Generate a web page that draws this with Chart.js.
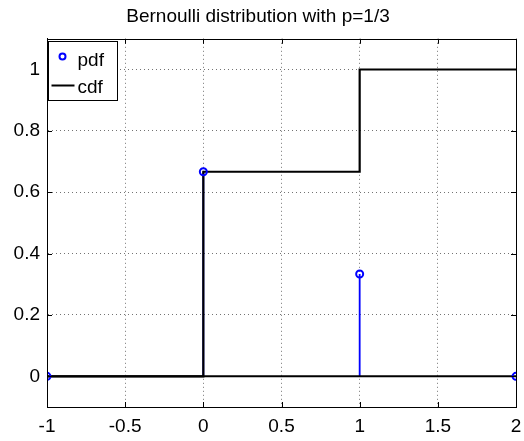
<!DOCTYPE html>
<html>
<head>
<meta charset="utf-8">
<script src="https://cdn.jsdelivr.net/npm/chart.js@4/dist/chart.umd.min.js"></script>
<style>
  html, body { margin: 0; padding: 0; background: #fff; }
  #wrap { width: 524px; height: 441px; }
</style>
</head>
<body>
<div id="wrap"><canvas id="bern"></canvas></div>
<script>
// Bernoulli with p = 1/3 on support {0, 1}, plotted over [-1, 2]
var pdfX = [-1, 0, 1, 2];
var pdfY = [0, 2 / 3, 1 / 3, 0];
var cdfX = [-1, 0, 1, 2];
var cdfY = [0, 2 / 3, 1, 1];
var xTicks = [-1, -0.5, 0, 0.5, 1, 1.5, 2];
var yTicks = [0, 0.2, 0.4, 0.6, 0.8, 1];

var FONT = '"Liberation Sans", Arial, Helvetica, sans-serif';
var BLUE = 'rgb(0, 0, 255)';

// stairs: hold each cdf value until the next x
var cdfPts = [];
for (var i = 0; i < cdfX.length; i++) {
    if (i > 0) cdfPts.push({ x: cdfX[i], y: cdfY[i - 1] });
    cdfPts.push({ x: cdfX[i], y: cdfY[i] });
}

// one vertical stem per pdf value
var stems = pdfX.map(function (x, i) {
    return {
        data: [{ x: x, y: 0 }, { x: x, y: pdfY[i] }],
        borderColor: BLUE, borderWidth: 1.8, pointRadius: 0, showLine: true,
        order: 3
    };
});

var baseline = {
    data: [{ x: xTicks[0], y: 0 }, { x: xTicks[xTicks.length - 1], y: 0 }],
    borderColor: '#000', borderWidth: 2, pointRadius: 0, showLine: true,
    order: 2
};

var markers = {
    label: 'pdf',
    data: pdfX.map(function (x, i) { return { x: x, y: pdfY[i] }; }),
    showLine: false,
    pointStyle: 'circle', pointRadius: 3.5, pointBorderWidth: 2,
    pointBorderColor: BLUE, pointBackgroundColor: 'rgba(0,0,0,0)',
    borderColor: BLUE,
    order: 0
};

var cdf = {
    label: 'cdf',
    data: cdfPts,
    showLine: true, borderColor: '#000', borderWidth: 2.2, pointRadius: 0,
    order: 1
};

function fmt(v) { return String(Math.round(v * 10) / 10); }

// inward tick marks on all four sides, plus the top/right box edges
var boxTicks = {
    id: 'boxTicks',
    afterDatasetsDraw: function (chart) {
        var a = chart.chartArea, c = chart.ctx;
        var sx = chart.scales.x, sy = chart.scales.y, len = 5;
        c.save();
        c.strokeStyle = '#000';
        c.lineWidth = 1;
        c.beginPath();
        xTicks.forEach(function (v) {
            var px = Math.round(sx.getPixelForValue(v)) + 0.5;
            c.moveTo(px, a.bottom); c.lineTo(px, a.bottom - len);
            c.moveTo(px, a.top); c.lineTo(px, a.top + len);
        });
        yTicks.forEach(function (v) {
            var py = Math.round(sy.getPixelForValue(v)) + 0.5;
            c.moveTo(a.left, py); c.lineTo(a.left + len, py);
            c.moveTo(a.right, py); c.lineTo(a.right - len, py);
        });
        c.stroke();
        c.strokeRect(Math.round(a.left) + 0.5, Math.round(a.top) + 0.5,
            Math.round(a.right - a.left), Math.round(a.bottom - a.top));
        c.restore();
    }
};

// boxed legend in the upper-left corner of the axes
var boxLegend = {
    id: 'boxLegend',
    afterDraw: function (chart) {
        var a = chart.chartArea, c = chart.ctx;
        var items = chart.data.datasets.filter(function (d) { return d.label; });
        var x0 = Math.round(a.left) + 1.5, y0 = Math.round(a.top) + 2.5, w = 69, rowH = 27;
        var h = items.length * rowH + 5;
        c.save();
        c.fillStyle = '#fff';
        c.fillRect(x0, y0, w, h);
        c.strokeStyle = '#000';
        c.lineWidth = 1;
        c.strokeRect(x0, y0, w, h);
        c.font = '19px ' + FONT;
        c.textBaseline = 'middle';
        items.forEach(function (d, i) {
            var cy = y0 + 19 + i * rowH;
            if (d.showLine === false) {
                c.strokeStyle = d.pointBorderColor;
                c.lineWidth = d.pointBorderWidth;
                c.beginPath();
                c.arc(x0 + 14, cy - 4, d.pointRadius - 0.5, 0, Math.PI * 2);
                c.stroke();
            } else {
                c.strokeStyle = d.borderColor;
                c.lineWidth = 2;
                c.beginPath();
                c.moveTo(x0 + 3, cy - 2); c.lineTo(x0 + 26, cy - 2);
                c.stroke();
            }
            c.fillStyle = '#000';
            c.fillText(d.label, x0 + 29, cy);
        });
        c.restore();
    }
};

new Chart(document.getElementById('bern'), {
    type: 'scatter',
    data: { datasets: [markers, cdf, baseline].concat(stems) },
    options: {
        responsive: true,
        maintainAspectRatio: false,
        animation: false,
        layout: { padding: { left: 0, right: 8, top: 0, bottom: 0 } },
        plugins: {
            legend: { display: false },
            tooltip: { enabled: false },
            title: {
                display: true,
                text: 'Bernoulli distribution with p=1/3',
                color: '#000',
                font: { family: FONT, size: 19, weight: 'normal' },
                padding: { top: 5, bottom: 11 }
            }
        },
        scales: {
            x: {
                type: 'linear', min: -1, max: 2,
                afterBuildTicks: function (s) { s.ticks = xTicks.map(function (v) { return { value: v }; }); },
                afterFit: function (s) { s.height = 34; s.paddingLeft = 0; s.paddingRight = 0; },
                grid: { color: 'rgba(0,0,0,0.55)', drawTicks: false },
                border: { display: true, color: '#000', dash: [1, 3] },
                ticks: { color: '#000', padding: 8, maxRotation: 0, callback: fmt, font: { family: FONT, size: 19 } }
            },
            y: {
                type: 'linear', min: -0.1, max: 1.1,
                afterBuildTicks: function (s) { s.ticks = yTicks.map(function (v) { return { value: v }; }); },
                afterFit: function (s) { s.width = 47; s.paddingTop = 0; s.paddingBottom = 0; },
                grid: { color: 'rgba(0,0,0,0.55)', drawTicks: false },
                border: { display: true, color: '#000', dash: [1, 3] },
                ticks: { color: '#000', padding: 7, callback: fmt, font: { family: FONT, size: 19 } }
            }
        }
    },
    plugins: [boxTicks, boxLegend]
});
</script>
</body>
</html>
